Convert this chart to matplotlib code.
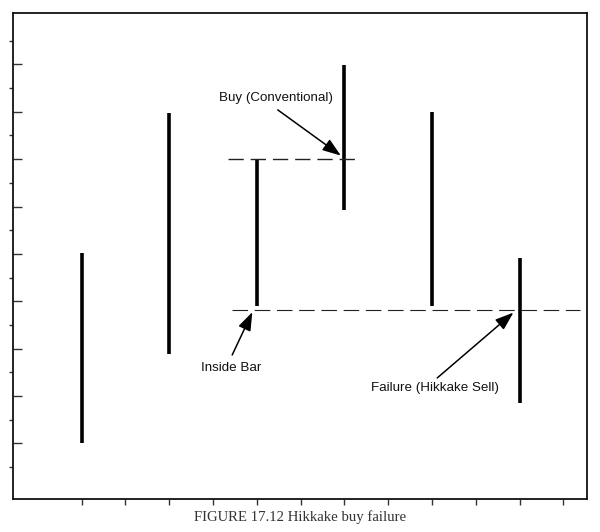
import numpy as np
import matplotlib.pyplot as plt

# price bars (high/low), one every session
sessions = [1, 2, 3, 4, 5, 6]
highs = [10.05, 15.95, 13.95, 17.97, 16.0, 9.83]
lows = [2.0, 5.77, 7.8, 11.85, 7.8, 3.7]

# reference levels
buy_level = 14.0
sell_level = 7.62

caption = "FIGURE 17.12 Hikkake buy failure"

fig = plt.figure(figsize=(6.0, 5.32), dpi=100)
ax = fig.add_axes([13 / 600, 1 - 499 / 532, 574 / 600, 486 / 532])

ax.vlines(sessions, lows, highs, colors="black", linewidth=2.6, capstyle="butt")

ax.plot([2.67, 4.15], [buy_level, buy_level], color="#222222", lw=1.0,
        dashes=(11, 5))
ax.plot([2.72, 6.69], [sell_level, sell_level], color="#222222", lw=0.8,
        dashes=(14, 6))

txt = dict(fontsize=9.6, family="Liberation Sans", color="#111111",
           ha="center", va="center")
arrow = dict(arrowstyle="-|>,head_length=0.7,head_width=0.25", color="black",
             lw=1.1, mutation_scale=16, shrinkA=0, shrinkB=0)

ax.text(3.22, 16.58, "Buy (Conventional)", **txt)
ax.annotate("", xy=(sessions[3] - 0.04, buy_level + 0.15), xytext=(3.24, 16.08),
            arrowprops=arrow)

ax.text(2.71, 5.18, "Inside Bar", **txt)
ax.annotate("", xy=(sessions[2] - 0.05, sell_level - 0.08), xytext=(2.72, 5.73),
            arrowprops=arrow)

ax.text(5.035, 4.34, "Failure (Hikkake Sell)", **txt)
ax.annotate("", xy=(sessions[5] - 0.07, sell_level - 0.1), xytext=(5.06, 4.76),
            arrowprops=arrow)

ax.set_xlim(0.218, 6.77)
ax.set_ylim(-0.35, 20.17)

ax.set_xticks(np.arange(1, 7, 0.5))
ax.set_xticklabels([])
ax.tick_params(axis="x", direction="out", length=4, width=1.0, color="#333333")

ax.set_yticks(np.arange(2, 19, 2))
ax.set_yticks(np.arange(1, 20, 2), minor=True)
ax.set_yticklabels([])
ax.tick_params(axis="y", which="major", direction="in", length=6.5, width=1.0,
               color="#333333")
ax.tick_params(axis="y", which="minor", direction="out", length=3, width=1.0,
               color="#333333")

for s in ax.spines.values():
    s.set_linewidth(1.3)
    s.set_color("#111111")

fig.text(0.5, 1 - 517 / 532, caption, ha="center", va="center",
         fontsize=10.6, family="Liberation Serif", color="#333333")

fig.savefig("out.png", dpi=100)
